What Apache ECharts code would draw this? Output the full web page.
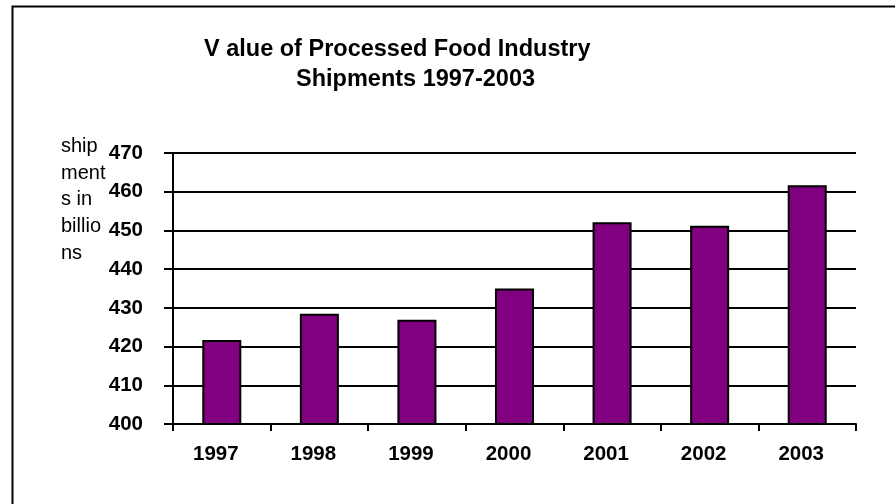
<!DOCTYPE html>
<html>
<head>
<meta charset="utf-8">
<script src="https://cdn.jsdelivr.net/npm/echarts@6/dist/echarts.min.js"></script>
<style>
html,body{margin:0;padding:0;background:#fff;}
#chart{width:895px;height:504px;}
</style>
</head>
<body>
<div id="chart"></div>
<script>
const categories = ['1997', '1998', '1999', '2000', '2001', '2002', '2003'];
const shipments = [421.7, 428.5, 426.9, 435.0, 452.1, 451.2, 461.7];
const titleLines = ['V alue of Processed Food Industry', 'Shipments 1997-2003'];
const yAxisName = ['ship', 'ment', 's in', 'billio', 'ns'];

const FONT = "'Liberation Sans', Arial, sans-serif";
const chart = echarts.init(document.getElementById('chart'), null, {renderer: 'canvas'});
chart.setOption({
  backgroundColor: '#ffffff',
  animation: false,
  graphic: [
    {type: 'rect', shape: {x: 12.5, y: 6.5, width: 1000, height: 1000},
     style: {fill: 'none', stroke: '#000', lineWidth: 2}, silent: true},
    {type: 'text', left: 204, top: 38,
     style: {text: titleLines[0], font: 'bold 23.5px ' + FONT, fill: '#000'}},
    {type: 'text', left: 296, top: 68,
     style: {text: titleLines[1], font: 'bold 23.5px ' + FONT, fill: '#000'}},
    {type: 'text', left: 61, top: 133,
     style: {text: yAxisName.join('\n'), font: '20px ' + FONT, fill: '#000', lineHeight: 26.7}}
  ],
  grid: {left: 173, right: 39, top: 153, bottom: 80, containLabel: false},
  xAxis: {
    type: 'category',
    data: categories,
    axisLine: {lineStyle: {color: '#000', width: 2}},
    axisTick: {show: true, length: 7, lineStyle: {color: '#000', width: 2}},
    axisLabel: {color: '#000', fontFamily: FONT, fontWeight: 'bold', fontSize: 20.5, margin: 20, padding: [0, 12, 0, 0]},
    splitLine: {show: false}
  },
  yAxis: {
    type: 'value',
    min: 400, max: 470, interval: 10,
    axisLine: {show: true, lineStyle: {color: '#000', width: 2}},
    axisTick: {show: true, length: 9, lineStyle: {color: '#000', width: 2}},
    axisLabel: {color: '#000', fontFamily: FONT, fontWeight: 'bold', fontSize: 20.5, margin: 30},
    splitLine: {show: true, lineStyle: {color: '#000', width: 2}}
  },
  series: [{
    type: 'bar',
    data: shipments,
    barCategoryGap: '60%',
    itemStyle: {color: '#800080', borderColor: '#000', borderWidth: 2}
  }]
});
</script>
</body>
</html>
